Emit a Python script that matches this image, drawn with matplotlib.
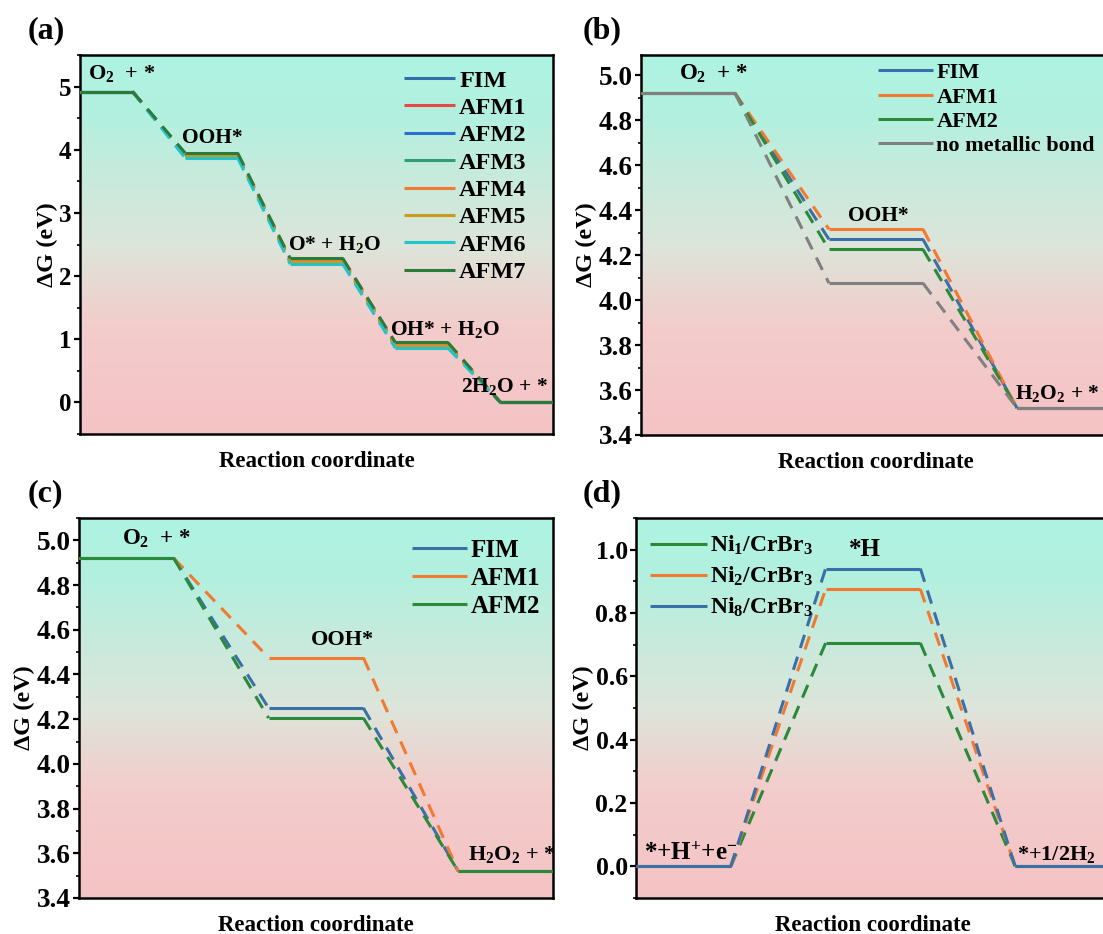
import matplotlib
matplotlib.use("Agg")
import matplotlib.pyplot as plt
import numpy as np
from matplotlib.colors import LinearSegmentedColormap
from matplotlib.ticker import MultipleLocator

plt.rcParams['font.family'] = ['Liberation Serif', 'DejaVu Serif']
plt.rcParams['font.weight'] = 'bold'
plt.rcParams['mathtext.default'] = 'regular'
plt.rcParams['axes.linewidth'] = 1.8

# ---- data ----
# (a) 4e ORR, eight magnetic configurations
a_names = ['FIM', 'AFM1', 'AFM2', 'AFM3', 'AFM4', 'AFM5', 'AFM6', 'AFM7']
a_colors = ['#2f6ea8', '#e8474a', '#2a6ed2', '#2f9e72', '#f07a32', '#c89a1e', '#22c4cc', '#2a7a3c']
a_O2 = [4.92, 4.92, 4.92, 4.92, 4.92, 4.92, 4.92, 4.92]
a_OOH = [3.92, 3.93, 3.91, 3.90, 3.92, 3.91, 3.87, 3.95]
a_O = [2.25, 2.27, 2.24, 2.22, 2.26, 2.23, 2.19, 2.28]
a_OH = [0.92, 0.93, 0.91, 0.89, 0.92, 0.90, 0.86, 0.95]
a_H2O = [0.0, 0.0, 0.0, 0.0, 0.0, 0.0, 0.0, 0.0]
a_steps = ['O$_2$  + *', 'OOH*', 'O* + H$_2$O', 'OH* + H$_2$O', '2H$_2$O + *']

# (b) 2e ORR
b_names = ['FIM', 'AFM1', 'AFM2', 'no metallic bond']
b_colors = ['#3a70a8', '#f27a30', '#2a8a3a', '#808080']
b_O2 = [4.92, 4.92, 4.92, 4.92]
b_OOH = [4.27, 4.315, 4.225, 4.075]
b_H2O2 = [3.52, 3.52, 3.52, 3.52]

# (c) 2e ORR
c_names = ['FIM', 'AFM1', 'AFM2']
c_colors = ['#3a70a8', '#f27a30', '#2a8a3a']
c_O2 = [4.92, 4.92, 4.92]
c_OOH = [4.25, 4.475, 4.205]
c_H2O2 = [3.52, 3.52, 3.52]
bc_steps = ['O$_2$  + *', 'OOH*', 'H$_2$O$_2$ + *']

# (d) HER
d_names = ['Ni$_1$/CrBr$_3$', 'Ni$_2$/CrBr$_3$', 'Ni$_8$/CrBr$_3$']
d_colors = ['#2a8a3a', '#f27a30', '#3a70a8']
d_start = [0.0, 0.0, 0.0]
d_H = [0.705, 0.875, 0.94]
d_end = [0.0, 0.0, 0.0]
d_steps = ['*+H$^{+}$+e$^{-}$', '*H', '*+1/2H$_2$']

W, H = 1103, 934
fig = plt.figure(figsize=(W / 100, H / 100), dpi=100)

cmap = LinearSegmentedColormap.from_list(
    'bg', [(0, '#aef4e2'), (0.15, '#b2f0df'), (0.5, '#dde5da'), (0.72, '#f3cccb'), (1, '#f5c3c5')])


def make_ax(l, r, t, b, tick_fs, lab_fs):
    ax = fig.add_axes([l / W, 1 - b / H, (r - l) / W, (b - t) / H])
    grad = np.linspace(0, 1, 256).reshape(-1, 1)
    ax.imshow(grad, cmap=cmap, aspect='auto', extent=[0, 1, 0, 1],
              transform=ax.transAxes, zorder=0)
    ax.set_xticks([])
    ax.tick_params(axis='y', which='major', direction='out', length=4.5, width=1.6,
                   labelsize=tick_fs, pad=1.5)
    ax.tick_params(axis='y', which='minor', direction='out', length=2.5, width=1.2)
    ax.set_ylabel('ΔG (eV)', fontweight='bold', fontsize=lab_fs, labelpad=1)
    ax.set_xlabel('Reaction coordinate', fontweight='bold', fontsize=16.5, labelpad=12)
    return ax


def draw_profile(ax, levels, color, label):
    for i, y in enumerate(levels):
        ax.plot([2 * i, 2 * i + 1], [y, y], color=color, lw=2.2, solid_capstyle='butt',
                label=label if i == 0 else None, zorder=3)
        if i < len(levels) - 1:
            ax.plot([2 * i + 1, 2 * i + 2], [y, levels[i + 1]], color=color, lw=2.2,
                    ls=(0, (4.5, 3)), zorder=3)


# (a)
ax = make_ax(80, 553, 55, 434, 18, 17.5)
for k in range(len(a_names)):
    draw_profile(ax, [a_O2[k], a_OOH[k], a_O[k], a_OH[k], a_H2O[k]], a_colors[k], a_names[k])
ax.set_xlim(0, 9)
ax.set_ylim(-0.5, 5.5)
ax.yaxis.set_major_locator(MultipleLocator(1))
ax.yaxis.set_minor_locator(MultipleLocator(0.5))
ax.text(0.15, 5.12, a_steps[0], fontsize=16, fontweight='bold')
ax.text(1.95, 4.1, a_steps[1], fontsize=15.5, fontweight='bold')
ax.text(3.95, 2.42, a_steps[2], fontsize=15.5, fontweight='bold')
ax.text(5.9, 1.06, a_steps[3], fontsize=15.5, fontweight='bold')
ax.text(7.25, 0.16, a_steps[4], fontsize=15.5, fontweight='bold')
ax.legend(loc='upper left', bbox_to_anchor=(0.655, 1.0), frameon=False, fontsize=17.5,
          handlelength=2.1, handletextpad=0.15, labelspacing=0.22, borderaxespad=0.2)
fig.text(28 / W, 1 - 31 / H, '(a)', fontsize=23, fontweight='bold', va='center')

# (b)
ax = make_ax(641, 1111, 55, 435, 19.5, 17.5)
for k in range(len(b_names)):
    draw_profile(ax, [b_O2[k], b_OOH[k], b_H2O2[k]], b_colors[k], b_names[k])
ax.set_xlim(0, 5)
ax.set_ylim(3.4, 5.09)
ax.yaxis.set_major_locator(MultipleLocator(0.2))
ax.yaxis.set_minor_locator(MultipleLocator(0.1))
ax.text(0.4, 4.98, bc_steps[0], fontsize=16.5, fontweight='bold')
ax.text(2.2, 4.35, bc_steps[1], fontsize=15.5, fontweight='bold')
ax.text(3.98, 3.56, bc_steps[2], fontsize=15.5, fontweight='bold')
ax.legend(loc='upper left', bbox_to_anchor=(0.475, 1.015), frameon=False, fontsize=16,
          handlelength=2.5, handletextpad=0.15, labelspacing=0.17, borderaxespad=0.2)
fig.text(583 / W, 1 - 31 / H, '(b)', fontsize=23, fontweight='bold', va='center')

# (c)
ax = make_ax(79, 553, 518, 898, 19.5, 17.5)
for k in range(len(c_names)):
    draw_profile(ax, [c_O2[k], c_OOH[k], c_H2O2[k]], c_colors[k], c_names[k])
ax.set_xlim(0, 5)
ax.set_ylim(3.4, 5.1)
ax.yaxis.set_major_locator(MultipleLocator(0.2))
ax.yaxis.set_minor_locator(MultipleLocator(0.1))
ax.text(0.45, 4.98, bc_steps[0], fontsize=16.5, fontweight='bold')
ax.text(2.45, 4.53, bc_steps[1], fontsize=16, fontweight='bold')
ax.text(4.1, 3.57, bc_steps[2], fontsize=16, fontweight='bold')
ax.legend(loc='upper left', bbox_to_anchor=(0.67, 0.985), frameon=False, fontsize=18,
          handlelength=2.2, handletextpad=0.15, labelspacing=0.2, borderaxespad=0.2)
fig.text(28 / W, 1 - 494 / H, '(c)', fontsize=23, fontweight='bold', va='center')

# (d)
ax = make_ax(636, 1110, 518, 898, 18.5, 17.5)
for k in range(len(d_names)):
    draw_profile(ax, [d_start[k], d_H[k], d_end[k]], d_colors[k], d_names[k])
ax.set_xlim(0, 5)
ax.set_ylim(-0.1, 1.1)
ax.yaxis.set_major_locator(MultipleLocator(0.2))
ax.yaxis.set_minor_locator(MultipleLocator(0.1))
ax.text(0.08, 0.02, d_steps[0], fontsize=18, fontweight='bold')
ax.text(2.25, 0.98, d_steps[1], fontsize=18, fontweight='bold')
ax.text(4.02, 0.02, d_steps[2], fontsize=16, fontweight='bold')
ax.legend(loc='upper left', bbox_to_anchor=(0.0, 0.995), frameon=False, fontsize=17,
          handlelength=2.4, handletextpad=0.15, labelspacing=0.32, borderaxespad=0.2)
fig.text(583 / W, 1 - 494 / H, '(d)', fontsize=23, fontweight='bold', va='center')

fig.savefig('out.png', dpi=100)
